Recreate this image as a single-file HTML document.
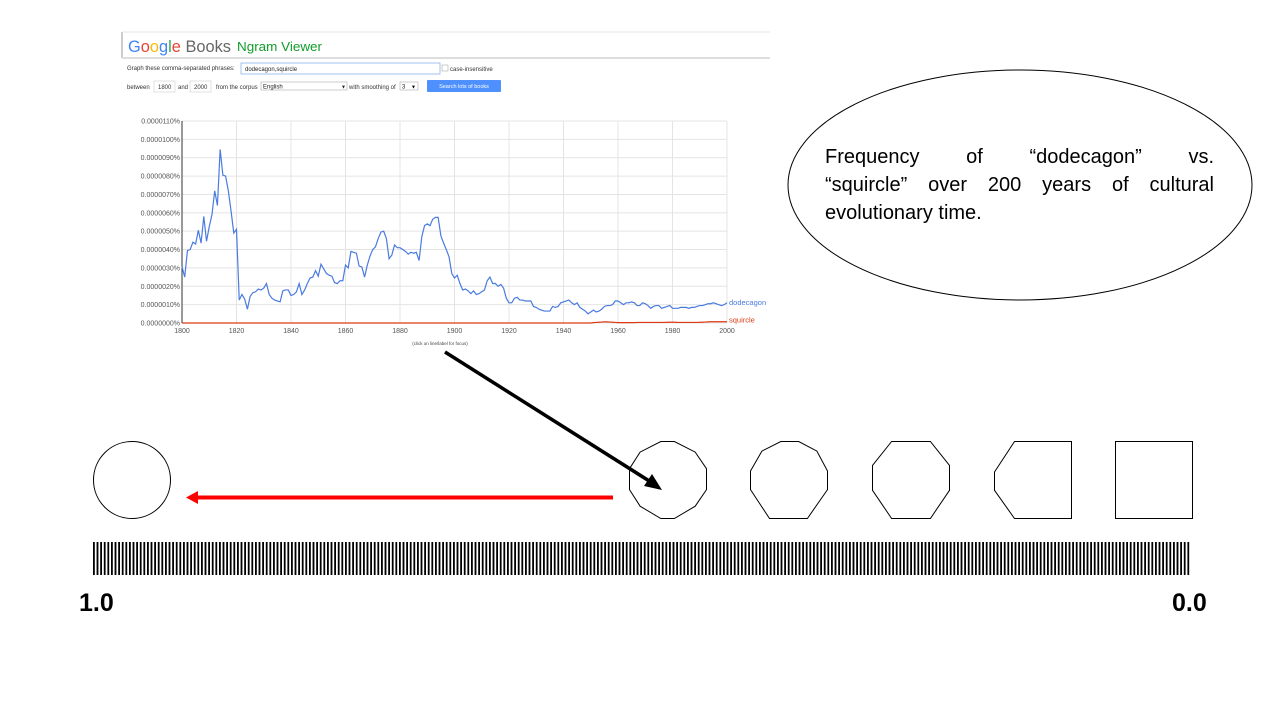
<!DOCTYPE html>
<html><head><meta charset="utf-8"><style>
html,body{margin:0;padding:0;background:#fff;}
body{width:1280px;height:720px;overflow:hidden;position:relative;font-family:"Liberation Sans",Arial,sans-serif;}
svg{position:absolute;left:0;top:0;}
#note{position:absolute;left:825px;top:143px;width:389px;font-size:20px;line-height:28px;color:#000;font-family:"Liberation Sans",sans-serif;}
#note .j{text-align:justify;text-align-last:justify;white-space:nowrap;}
</style></head><body>
<svg id="s" width="1280" height="720">
 <g>
  <line x1="122" y1="32" x2="122" y2="58" stroke="#999" stroke-width="1"/>
  <line x1="122" y1="32" x2="770" y2="32" stroke="#e6e6e6" stroke-width="1"/>
  <text x="128" y="52" font-size="17" textLength="103" lengthAdjust="spacingAndGlyphs"><tspan fill="#4285f4">G</tspan><tspan fill="#ea4335">o</tspan><tspan fill="#fbbc05">o</tspan><tspan fill="#4285f4">g</tspan><tspan fill="#34a853">l</tspan><tspan fill="#ea4335">e</tspan><tspan fill="#666"> Books</tspan></text>
  <text x="237" y="51" font-size="13" fill="#109d29" textLength="85" lengthAdjust="spacingAndGlyphs">Ngram Viewer</text>
  <rect x="122" y="57" width="648" height="2" fill="#ddd"/>
  <text x="127" y="70" font-size="6" fill="#333">Graph these comma-separated phrases:</text>
  <rect x="241" y="63" width="199" height="11" fill="#fff" stroke="#7aa7e8" stroke-width="0.7"/>
  <text x="245" y="71" font-size="6" fill="#222">dodecagon,squircle</text>
  <rect x="442" y="65" width="6" height="6" fill="#fff" stroke="#aaa" stroke-width="0.6"/>
  <text x="450" y="71" font-size="6" fill="#333">case-insensitive</text>
  <text x="127" y="89" font-size="6" fill="#333">between</text>
  <rect x="154" y="81" width="21" height="11" fill="#fff" stroke="#ccc" stroke-width="0.6"/>
  <text x="158" y="89" font-size="6" fill="#333">1800</text>
  <text x="178" y="89" font-size="6" fill="#333">and</text>
  <rect x="190" y="81" width="21" height="11" fill="#fff" stroke="#ccc" stroke-width="0.6"/>
  <text x="194" y="89" font-size="6" fill="#333">2000</text>
  <text x="216" y="89" font-size="6" fill="#333">from the corpus</text>
  <rect x="261" y="82" width="86" height="8" fill="#fff" stroke="#aaa" stroke-width="0.6"/>
  <text x="263" y="88.5" font-size="6" fill="#222">English</text>
  <text x="341" y="88.5" font-size="5" fill="#222">▼</text>
  <text x="349" y="89" font-size="6" fill="#333">with smoothing of</text>
  <rect x="400" y="82" width="18" height="8" fill="#fff" stroke="#aaa" stroke-width="0.6"/>
  <text x="402" y="88.5" font-size="6" fill="#222">3</text><text x="411" y="88.5" font-size="5">▼</text>
  <rect x="427" y="80" width="74" height="12" fill="#4d90fe" rx="1"/>
  <text x="464" y="88" font-size="5.5" fill="#fff" text-anchor="middle">Search lots of books</text>
 </g>
 <g id="chart"></g>
 <ellipse cx="1020" cy="185" rx="232" ry="115" fill="#fff" stroke="#000" stroke-width="1"/>
 <g>
  <circle cx="132" cy="480" r="38.5" fill="none" stroke="#000" stroke-width="1"/>
  <g id="polys"></g>
  <rect x="1115.5" y="441.5" width="77" height="77" fill="none" stroke="#000" stroke-width="1"/>
 </g>
 <line x1="445" y1="352" x2="654" y2="484" stroke="#000" stroke-width="3.5"/>
 <polygon points="662,490 644,486 652,474" fill="#000"/>
 <line x1="613" y1="497.5" x2="196" y2="497.5" stroke="#f00" stroke-width="4"/>
 <polygon points="186,497.5 198,491 198,504" fill="#f00"/>
 <defs><pattern id="stripes" width="3.6" height="33" patternUnits="userSpaceOnUse" x="93"><rect width="1.8" height="33" fill="#000"/></pattern></defs>
 <rect x="93" y="542" width="1098" height="33" fill="url(#stripes)"/>
 <text x="79" y="611" font-size="25" font-weight="bold">1.0</text>
 <text x="1172" y="611" font-size="25" font-weight="bold">0.0</text>
</svg>
<div id="note"><div class="j">Frequency of “dodecagon” vs.</div><div class="j">“squircle” over 200 years of cultural</div><div>evolutionary time.</div></div>
<script>
const startYear = 1800;
const dodecagon = [3.07,2.5,3.95,4.0,4.4,4.3,5.05,4.35,5.8,4.45,5.25,5.9,7.2,6.4,9.45,8.05,8.0,7.2,6.1,4.9,
5.1,1.25,1.55,1.3,0.75,1.45,1.65,1.7,1.85,1.8,1.9,2.15,1.55,1.35,1.25,1.2,1.15,1.75,1.8,1.8,
1.5,1.55,1.7,2.15,1.55,1.8,2.15,2.45,2.5,2.85,2.55,3.2,2.95,2.7,2.6,2.55,2.2,2.15,2.3,2.3,
3.15,3.0,3.9,3.85,3.8,3.1,3.05,2.5,3.15,3.65,4.0,4.15,4.6,4.95,5.0,4.6,3.5,3.7,4.25,4.1,
4.1,4.0,3.9,3.75,3.85,3.8,3.85,3.4,4.7,5.3,5.4,5.3,5.65,5.75,5.75,4.75,4.35,4.0,3.6,2.7,
2.45,2.6,2.15,1.8,1.85,1.75,1.6,1.75,1.55,1.6,1.7,1.8,2.3,2.5,2.15,2.15,2.0,2.1,1.9,1.35,
1.1,1.1,1.35,1.4,1.25,1.25,1.2,1.2,1.2,0.9,0.85,0.75,0.7,0.65,0.65,0.65,0.9,0.85,0.9,1.1,
1.15,1.2,1.25,1.1,1.0,1.1,0.85,0.75,0.65,0.5,0.6,0.7,0.6,0.65,0.75,0.9,0.95,0.95,1.0,1.2,
1.2,1.1,1.0,1.1,1.1,1.15,1.1,0.95,0.95,1.1,1.05,0.95,0.8,0.9,0.95,0.95,0.8,0.85,0.9,0.95,
0.8,0.8,0.8,0.85,0.85,0.85,0.8,0.85,0.85,0.9,0.95,0.95,1.0,1.05,1.05,1.1,1.05,1.0,0.95,1.0,1.1];
const squircle = [0,0,0,0,0,0,0,0,0,0,0,0,0,0,0,0,0,0,0,0,0,0,0,0,0,0,0,0,0,0,0,0,0,0,0,0,0,0,0,0,
0,0,0,0,0,0,0,0,0,0,0,0,0,0,0,0,0,0,0,0,0,0,0,0,0,0,0,0,0,0,0,0,0,0,0,0,0,0,0,0,
0,0,0,0,0,0,0,0,0,0,0,0,0,0,0,0,0,0,0,0,0,0,0,0,0,0,0,0,0,0,0,0,0,0,0,0,0,0,0,0,
0,0,0,0,0,0,0,0,0,0,0,0,0,0,0,0,0,0,0,0,0,0,0,0,0,0,0,0,0,0,0,0.02,0.03,0.04,0.05,0.06,0.06,0.05,0.04,0.03,
0.02,0.02,0.02,0.02,0.02,0.02,0.02,0.03,0.03,0.03,0.03,0.03,0.03,0.03,0.03,0.03,0.03,0.03,0.04,0.04,0.04,0.04,0.03,0.03,0.03,0.03,0.03,0.03,0.03,0.03,
0.04,0.04,0.05,0.06,0.07,0.07,0.07,0.07,0.07,0.07,0.07];
const yTicks = ["0.0000000%","0.0000010%","0.0000020%","0.0000030%","0.0000040%","0.0000050%","0.0000060%","0.0000070%","0.0000080%","0.0000090%","0.0000100%","0.0000110%"];
const xTicks = [1800,1820,1840,1860,1880,1900,1920,1940,1960,1980,2000];

const NS="http://www.w3.org/2000/svg";
const g=document.getElementById('chart');
const X0=182,X1=727,Y0=323,Y1=121;
const xs=y=>X0+(y-1800)/200*(X1-X0);
const ys=v=>Y0-v/11*(Y0-Y1);
function mk(tag,attrs,parent){const e=document.createElementNS(NS,tag);for(const k in attrs)e.setAttribute(k,attrs[k]);(parent||g).appendChild(e);return e;}
yTicks.forEach((t,i)=>{
 const l=mk('line',{x1:X0,x2:X1,y1:ys(i),y2:ys(i),stroke:'#e4e4e4','stroke-width':1});
 
 
 const tx=mk('text',{x:X0-2,y:ys(i)+2.5,'font-size':7,fill:'#555','text-anchor':'end'});
 tx.textContent=t;
 
 
});
xTicks.forEach(t=>{
 const l=mk('line',{x1:xs(t),x2:xs(t),y1:Y1,y2:Y0,stroke:'#e4e4e4','stroke-width':1});
 
 
 const tx=mk('text',{x:xs(t),y:Y0+10,'font-size':7,fill:'#555','text-anchor':'middle'});
 tx.textContent=t;
 
 
});
const ax=mk('line',{x1:X0,x2:X0,y1:Y1,y2:Y0,stroke:'#333','stroke-width':1});


function series(arr,color,name,label,ly){
 const p=mk('polyline',{points:arr.map((v,i)=>xs(startYear+i)+','+ys(v)).join(' '),fill:'none',stroke:color,'stroke-width':1.2});
 
 
 const t=mk('text',{x:X1+2,y:ly,'font-size':7.5,fill:color});
 t.textContent=label;
 
 
}
series(squircle,'#dc3912','squircle-line','squircle',ys(squircle[squircle.length-1])+1);
series(dodecagon,'#4a7be0','dodecagon-line','dodecagon',ys(dodecagon[dodecagon.length-1])+2);
const hint=mk('text',{x:440,y:345,'font-size':4.5,fill:'#444','text-anchor':'middle'});
hint.textContent='(click on line/label for focus)';



const polys=document.getElementById('polys');
const shapes=[
 {x:629,name:'dodecagon-shape',pts:[[105,33],[140,33],[193,65],[222,115],[222,178],[193,228],[140,265],[105,265],[52,228],[25,178],[25,115],[52,65]],bx:25,bw:197},
 {x:750,name:'decagon-shape',pts:[[420,33],[467,33],[515,62],[543,122],[543,178],[490,265],[390,265],[340,178],[340,122],[370,62]],bx:340,bw:203},
 {x:872,name:'octagon-shape',pts:[[710,33],[812,33],[862,105],[862,180],[812,265],[710,265],[660,180],[660,105]],bx:660,bw:202},
 {x:994,name:'pentagon-shape',pts:[[1030,33],[1178,33],[1178,265],[1030,265],[978,180],[978,125]],bx:978,bw:200}
];
shapes.forEach(s=>{
 const pts=s.pts.map(([a,b])=>(s.x+0.5+(a-s.bx)/s.bw*77).toFixed(1)+','+(441.5+(b-33)/232*77).toFixed(1)).join(' ');
 const p=mk('polygon',{points:pts,fill:'none',stroke:'#000','stroke-width':1},polys);
 
 
});
</script>
</body></html>
